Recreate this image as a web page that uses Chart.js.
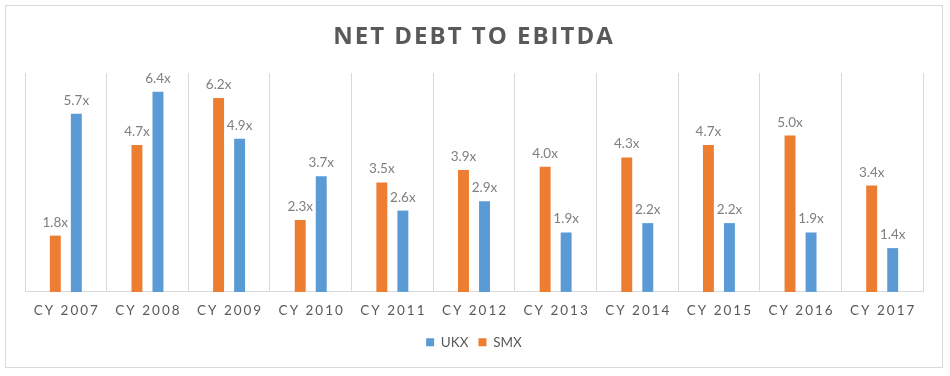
<!DOCTYPE html>
<html>
<head>
<meta charset="utf-8">
<title>Net Debt to EBITDA</title>
<script src="https://cdn.jsdelivr.net/npm/chart.js@4/dist/chart.umd.min.js"></script>
<style>
  html, body { margin: 0; padding: 0; background: #fff; }
  #wrap { position: relative; width: 950px; height: 376px; }
</style>
</head>
<body>
<div id="wrap"><canvas id="chart" width="950" height="376"></canvas></div>
<script>
/* ── Data ───────────────────────────────────────────── */
const years = ['CY 2007', 'CY 2008', 'CY 2009', 'CY 2010', 'CY 2011', 'CY 2012',
               'CY 2013', 'CY 2014', 'CY 2015', 'CY 2016', 'CY 2017'];
const smxValues = [1.8, 4.7, 6.2, 2.3, 3.5, 3.9, 4.0, 4.3, 4.7, 5.0, 3.4];
const ukxValues = [5.7, 6.4, 4.9, 3.7, 2.6, 2.9, 1.9, 2.2, 2.2, 1.9, 1.4];

const BLUE = '#5B9BD5';
const ORANGE = '#ED7D31';
const GRID = '#D9D9D9';
const TEXT = '#595959';
const LABEL = '#7F7F7F';
const FONT = "Lato, 'Open Sans', sans-serif";

/* ── Outer frame + title ────────────────────────────── */
const framePlugin = {
  id: 'frame',
  beforeDraw(chart) {
    const ctx = chart.ctx;
    ctx.save();
    ctx.strokeStyle = GRID;
    ctx.lineWidth = 1;
    ctx.strokeRect(5.5, 5.5, 937, 362);
    ctx.restore();
  },
  afterDraw(chart) {
    const ctx = chart.ctx;
    ctx.save();
    ctx.fillStyle = TEXT;
    ctx.font = "bold 24px 'Open Sans', sans-serif";
    ctx.letterSpacing = '2px';
    ctx.textAlign = 'center';
    ctx.textBaseline = 'alphabetic';
    ctx.fillText('NET DEBT TO EBITDA', 474, 44);

    /* x tick labels, letter-spaced */
    const x = chart.scales.x;
    ctx.font = '13.5px ' + FONT;
    ctx.letterSpacing = '2px';
    x.ticks.forEach((t, i) => {
      ctx.fillText(years[i], x.getPixelForTick(i) + 1, chart.chartArea.bottom + 23);
    });
    ctx.restore();
  }
};

/* ── Value labels above bars ────────────────────────── */
const valueLabels = {
  id: 'valueLabels',
  afterDatasetsDraw(chart) {
    const ctx = chart.ctx;
    ctx.save();
    ctx.fillStyle = LABEL;
    ctx.font = '13.5px ' + FONT;
    ctx.textAlign = 'center';
    ctx.textBaseline = 'alphabetic';
    chart.data.datasets.forEach((ds, di) => {
      const meta = chart.getDatasetMeta(di);
      meta.data.forEach((bar, i) => {
        ctx.fillText(ds.data[i].toFixed(1) + 'x', bar.x, bar.y - 9);
      });
    });
    ctx.restore();
  }
};

new Chart(document.getElementById('chart'), {
  type: 'bar',
  data: {
    labels: years,
    datasets: [
      { label: 'SMX', data: smxValues, backgroundColor: ORANGE, order: 1 },
      { label: 'UKX', data: ukxValues, backgroundColor: BLUE, order: 2 }
    ]
  },
  options: {
    responsive: false,
    animation: false,
    devicePixelRatio: 1,
    categoryPercentage: 0.515,
    barPercentage: 0.52,
    layout: { padding: { left: 25, right: 27, top: 73, bottom: 17 } },
    plugins: {
      title: { display: false },
      tooltip: { enabled: false },
      legend: {
        position: 'bottom',
        reverse: true,
        labels: {
          font: { family: FONT, size: 13.5 },
          color: TEXT,
          boxWidth: 8,
          boxHeight: 8,
          padding: 10
        }
      }
    },
    scales: {
      x: {
        grid: { display: true, offset: true, color: GRID, drawTicks: false },
        border: { display: true, color: GRID },
        ticks: { color: 'rgba(0,0,0,0)', font: { family: FONT, size: 13 }, padding: 9 }
      },
      y: {
        display: false,
        min: 0,
        max: 7
      }
    }
  },
  plugins: [framePlugin, valueLabels]
});
</script>
</body>
</html>
